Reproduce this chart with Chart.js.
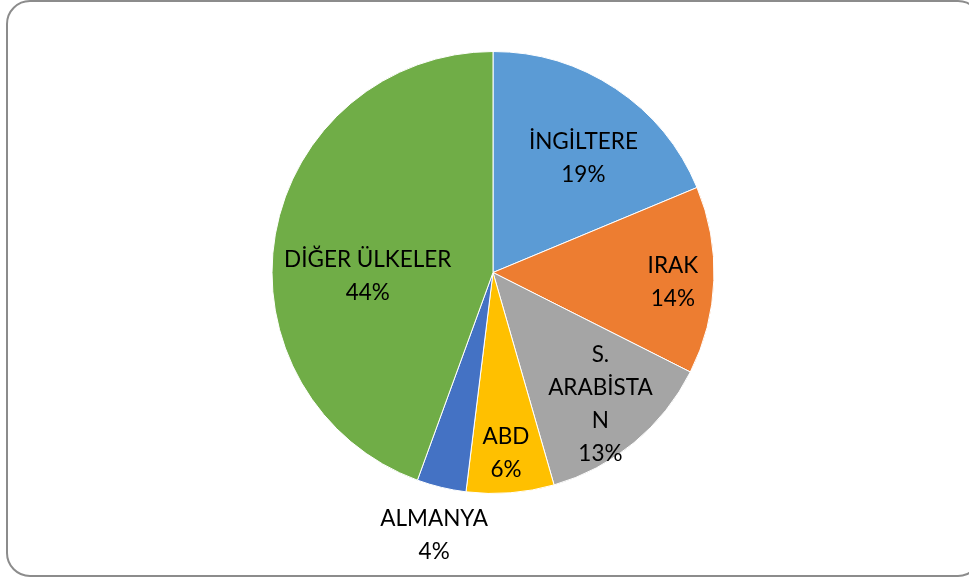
<!DOCTYPE html>
<html>
<head>
<meta charset="utf-8">
<script src="https://cdn.jsdelivr.net/npm/chart.js@4.4.0/dist/chart.umd.min.js"></script>
<style>
    html, body { margin: 0; padding: 0; background: #fff; overflow: hidden; }
    .kutu {
        position: absolute; left: 6px; top: 0px; width: 972px; height: 573px;
        border: 2px solid #8c8c8c; border-radius: 24px;
    }
    .GraficoUlkeler { position: absolute; left: 0; top: 0; width: 969px; height: 579px; }
</style>
</head>
<body>
<div class="kutu"></div>
<div class="GraficoUlkeler"><canvas id="GraficoUlkeler" width="969" height="579"></canvas></div>
<script>
/* Veriler */
var ulkeler = ['İNGİLTERE', 'IRAK', 'S. ARABİSTAN', 'ABD', 'ALMANYA', 'DİĞER ÜLKELER'];
var degerler = [18.7, 13.7, 13.1, 6.4, 3.6, 44.4];
var renkler = ['#5B9BD5', '#ED7D31', '#A5A5A5', '#FFC000', '#4472C4', '#70AD47'];

/* Etiket yerleşimi: yarıçapa göre uzaklık, açı kaydırma (derece), kelime kırma uzunluğu */
var etiketUzaklik = [0.66, 0.815, 0.77, 0.82, 1.22, 0.567];
var etiketAci = [4.6, 1, 0.5, 0.4, -0.9, -11.6];
var etiketKirma = [0, 0, 8, 0, 0, 0];

function SatirlaraBol(metin, maxKar) {
    if (!maxKar) return [metin];
    var satirlar = [];
    metin.split(' ').forEach(function (kelime) {
        while (kelime.length > maxKar) {
            satirlar.push(kelime.substring(0, maxKar));
            kelime = kelime.substring(maxKar);
        }
        satirlar.push(kelime);
    });
    return satirlar;
}

var etiketEklentisi = {
    id: 'etiketler',
    afterDatasetsDraw: function (chart) {
        var ctx = chart.ctx;
        var meta = chart.getDatasetMeta(0);
        var toplam = degerler.reduce(function (a, b) { return a + b; }, 0);
        ctx.save();
        ctx.font = '22.5px Lato, "Open Sans", sans-serif';
        ctx.fillStyle = '#000';
        ctx.textAlign = 'center';
        ctx.textBaseline = 'middle';
        meta.data.forEach(function (arc, i) {
            var p = arc.getProps(['x', 'y', 'startAngle', 'endAngle', 'outerRadius'], true);
            var orta = (p.startAngle + p.endAngle) / 2 + etiketAci[i] * Math.PI / 180;
            var r = p.outerRadius * etiketUzaklik[i];
            var cx = p.x + Math.cos(orta) * r;
            var cy = p.y + Math.sin(orta) * r;
            var satirlar = SatirlaraBol(ulkeler[i], etiketKirma[i]);
            satirlar.push(Math.round(degerler[i] / toplam * 100) + '%');
            var satirYuk = 33;
            var basY = cy - (satirlar.length - 1) * satirYuk / 2;
            satirlar.forEach(function (s, j) {
                ctx.fillText(s, cx, basY + j * satirYuk);
            });
        });
        ctx.restore();
    }
};

var ctx = document.getElementById('GraficoUlkeler').getContext('2d');
var grafico = new Chart(ctx, {
    type: 'pie',
    data: {
        labels: ulkeler,
        datasets: [{
            data: degerler,
            backgroundColor: renkler,
            borderColor: '#ffffff',
            borderWidth: 1
        }]
    },
    options: {
        responsive: false,
        animation: false,
        layout: { padding: { top: 51, bottom: 85, left: 100, right: 83 } },
        plugins: {
            legend: { display: false },
            tooltip: { enabled: false }
        }
    },
    plugins: [etiketEklentisi]
});
</script>
</body>
</html>
